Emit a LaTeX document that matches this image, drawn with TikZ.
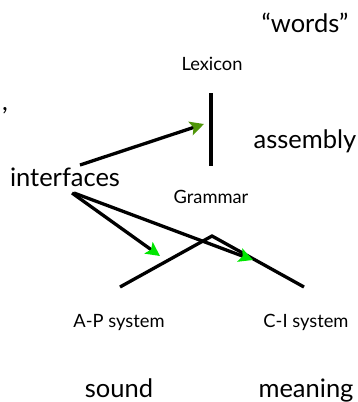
\documentclass[tikz,border=0pt]{standalone}
\usepackage{fontspec}
\setmainfont{Lato}
\usetikzlibrary{arrows.meta}
\definecolor{olivegreen}{RGB}{80,150,10}
\definecolor{brightgreen}{RGB}{0,230,0}
\tikzset{
  big/.style={font=\fontsize{25.5}{28}\selectfont, inner sep=0pt, anchor=base},
  small/.style={font=\fontsize{18.3}{20}\selectfont, inner sep=0pt, anchor=base},
  thickline/.style={line width=3.3pt, black},
  greenhead/.style={-{Stealth[length=14pt,width=14pt,inset=3pt,fill=#1,color=#1]}, line width=3.3pt},
}
\begin{document}
\begin{tikzpicture}[x=1pt,y=-1pt]
\useasboundingbox (0,0) rectangle (358,402);
\node[big] (words) at (305,32) {“words”};
\node[small] (lexicon) at (212,70) {Lexicon};
\node[big] (assembly) at (305,148) {assembly};
\node[big] (interfaces) at (65,186) {interfaces};
\node[small] (grammar) at (211,203) {Grammar};
\node[small] (ap) at (119,327) {A-P system};
\node[small] (ci) at (306,327) {C-I system};
\node[big] (sound) at (119,397) {sound};
\node[big] (meaning) at (306,397) {meaning};
\node[big, anchor=base east] (cut) at (8,110) {,};

\coordinate (vtop) at (211,93);
\coordinate (vbot) at (211,166);
\coordinate (a1s) at (80,165);
\coordinate (a1e) at (204,124);
\coordinate (a2s) at (72,193);
\coordinate (a2e) at (160,256);
\coordinate (a3s) at (74,193);
\coordinate (a3e) at (253,260);
\coordinate (apl) at (120,287);
\coordinate (apex) at (212,236);
\coordinate (apr) at (304,287);

\draw[thickline] (vtop) -- (vbot);
\draw[thickline] (apl) -- (apex) -- (apr);
\draw[greenhead=olivegreen] (a1s) -- (a1e);
\draw[greenhead=brightgreen] (a2s) -- (a2e);
\draw[greenhead=brightgreen] (a3s) -- (a3e);
\end{tikzpicture}
\end{document}
